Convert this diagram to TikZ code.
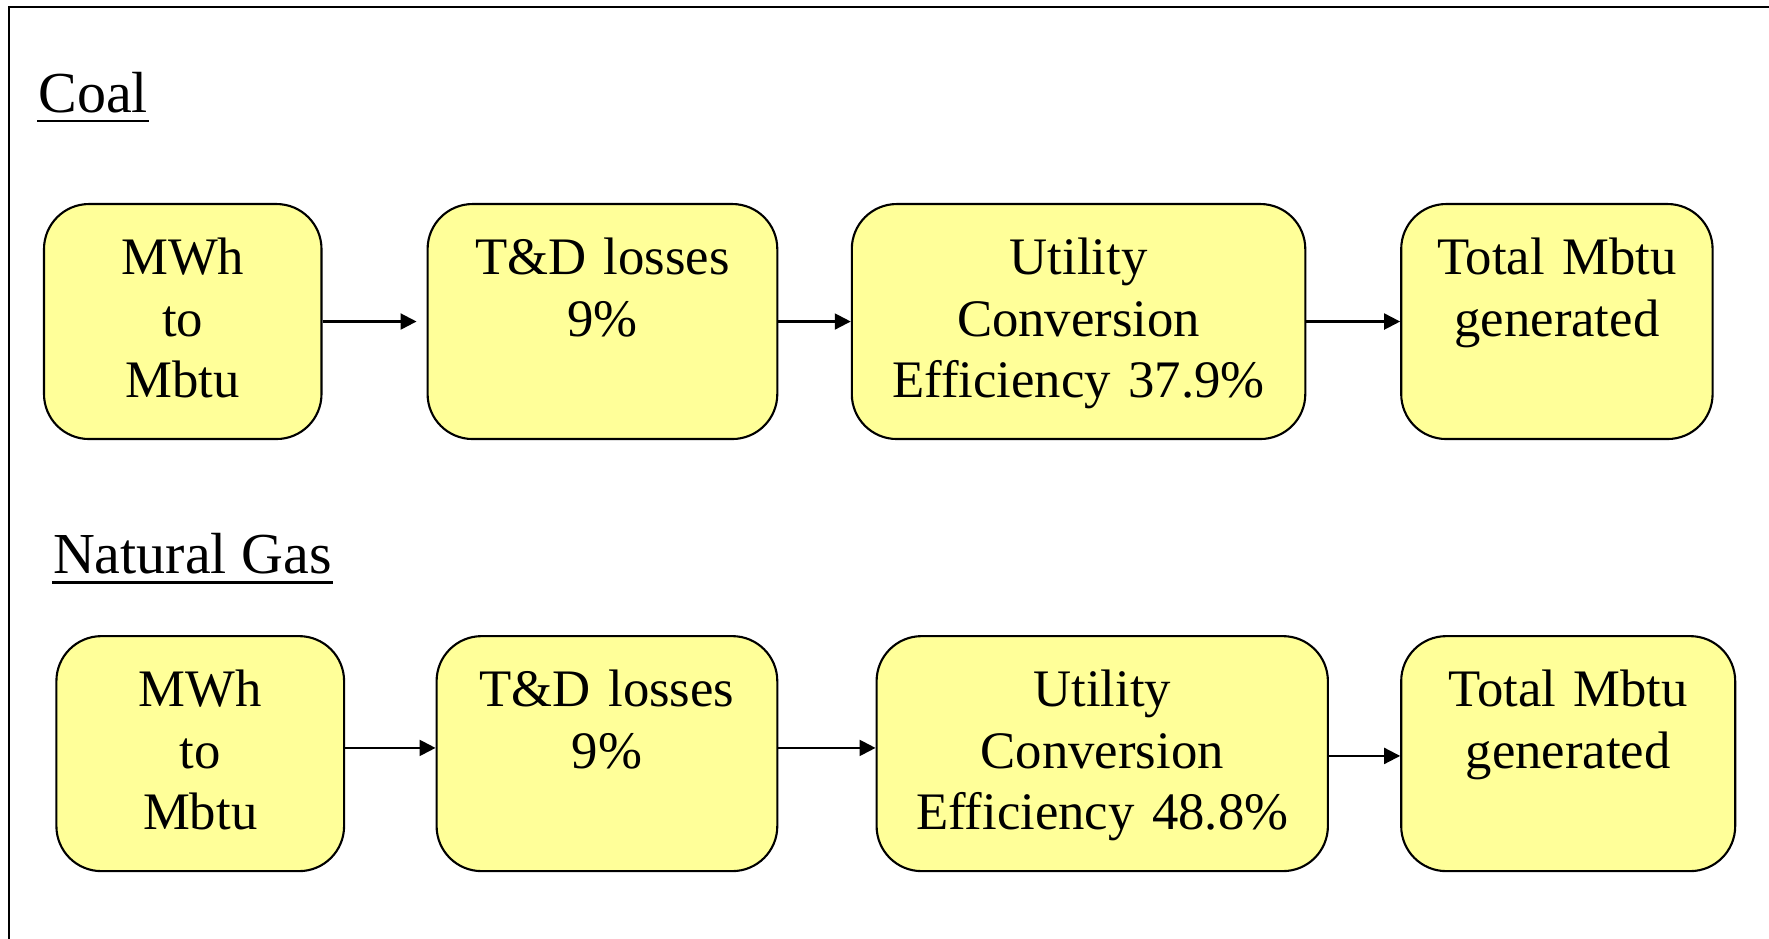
\documentclass[tikz,border=0pt]{standalone}
\usepackage{fontspec}
\setmainfont{Liberation Serif}
\usetikzlibrary{arrows.meta}

\definecolor{boxyellow}{RGB}{255,255,153}

\begin{document}
\begin{tikzpicture}[>={Triangle[length=1.6mm,width=1.6mm]},line width=.6pt,
        stage/.style={draw,fill=boxyellow,rounded corners=4.5mm,align=center,inner sep=0pt,
            text height=7.05mm,text depth=16.45mm,font=\fontsize{15pt}{17.5pt}\selectfont},
        heading/.style={anchor=base west,inner sep=0pt,font=\fontsize{16.5pt}{20pt}\selectfont}]
    \useasboundingbox (0,0) rectangle (17.69,9.39);
    \draw[line width=.7pt] (0.09,0) -- (0.09,9.32) -- (17.69,9.32);

    % coal
    \node[heading] (coal) at (0.374,8.26) {Coal};
    \draw[line width=.7pt] ([yshift=-.8mm]coal.base west) -- ([yshift=-.8mm]coal.base east);
    \node[stage,text width=27.75mm] (c1) at (1.8275,6.1745) {MWh\\to\\Mbtu};
    \node[stage,text width=34.97mm] (c2) at (6.0245,6.1745) {T\&D losses\\9\%};
    \node[stage,text width=45.35mm] (c3) at (10.7855,6.1745) {Utility\\Conversion\\Efficiency 37.9\%};
    \node[stage,text width=31.14mm] (c4) at (15.569,6.1745) {Total Mbtu\\generated};

    \path[->] (c1) edge [shorten >=1mm] (c2)
              (c2) edge (c3)
              (c3) edge (c4);

    % natural gas
    \node[heading] (gas) at (0.52,3.65) {Natural Gas};
    \draw[line width=.7pt] ([yshift=-.85mm]gas.base west) -- ([yshift=-.85mm]gas.base east);
    \node[stage,text width=28.77mm] (g1) at (2.0025,1.8535) {MWh\\to\\Mbtu};
    \node[stage,text width=34.07mm] (g2) at (6.0695,1.8535) {T\&D losses\\9\%};
    \node[stage,text width=45.13mm] (g3) at (11.0225,1.8535) {Utility\\Conversion\\Efficiency 48.8\%};
    \node[stage,text width=33.4mm] (g4) at (15.682,1.8535) {Total Mbtu\\generated};

    \path[->] ([yshift=.57mm]g1.east) edge ([yshift=.57mm]g2.west)
              ([yshift=.57mm]g2.east) edge ([yshift=.57mm]g3.west)
              ([yshift=-.23mm]g3.east) edge ([yshift=-.23mm]g4.west);
\end{tikzpicture}
\end{document}
